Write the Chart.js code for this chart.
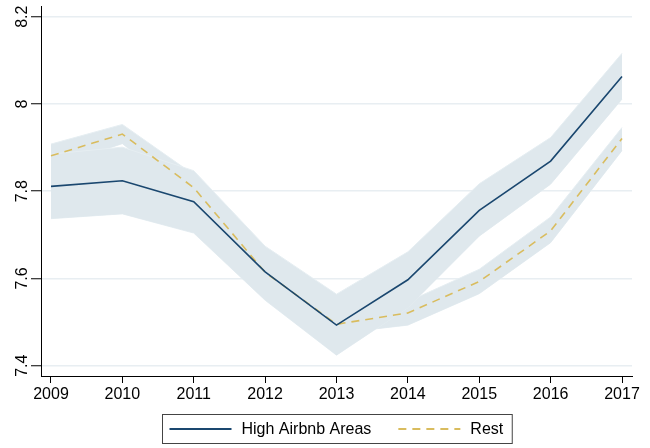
<!DOCTYPE html>
<html>
<head>
<meta charset="utf-8">
<script src="https://cdn.jsdelivr.net/npm/chart.js@4.4.1/dist/chart.umd.min.js"></script>
<style>
  body { margin: 0; background: #fff; }
  #wrap { width: 650px; height: 448px; }
</style>
</head>
<body>
<div id="wrap"><canvas id="chart"></canvas></div>
<script>
const years = [2009, 2010, 2011, 2012, 2013, 2014, 2015, 2016, 2017];
const highAirbnb = [7.811, 7.824, 7.776, 7.615, 7.493, 7.597, 7.756, 7.869, 8.063];
const highLower = [7.737, 7.748, 7.704, 7.550, 7.424, 7.533, 7.697, 7.816, 8.011];
const highUpper = [7.885, 7.901, 7.847, 7.674, 7.564, 7.661, 7.817, 7.923, 8.116];
const rest = [7.881, 7.931, 7.808, 7.614, 7.495, 7.521, 7.593, 7.709, 7.921];
const restLower = [7.854, 7.909, 7.778, 7.587, 7.474, 7.493, 7.565, 7.682, 7.893];
const restUpper = [7.908, 7.953, 7.838, 7.641, 7.520, 7.547, 7.621, 7.741, 7.946];
const yTicks = [7.4, 7.6, 7.8, 8, 8.2];
const seriesNames = ["High Airbnb Areas", "Rest"];

const FONT = "'Liberation Sans', Arial, sans-serif";
const NAVY = "#1a476f";
const GOLD = "#d9bc5e";
const BAND = "#dfe8ed";

function pts(vals) {
  return years.map((y, i) => ({ x: y, y: vals[i] }));
}

// y labels are rotated like the original, so draw them here; plus the boxed legend
const extras = {
  id: "extras",
  afterDraw(chart) {
    const ctx = chart.ctx;
    const ys = chart.scales.y;
    ctx.save();
    ctx.fillStyle = "#000";
    ctx.font = "16px " + FONT;
    ctx.textAlign = "center";
    ctx.textBaseline = "alphabetic";
    yTicks.forEach(v => {
      ctx.save();
      ctx.translate(27, ys.getPixelForValue(v));
      ctx.rotate(-Math.PI / 2);
      ctx.fillText(String(v), 0, 0);
      ctx.restore();
    });

    // legend
    const lineLen = 62, gap = 10, itemGap = 27, padL = 7, padR = 9;
    const w0 = ctx.measureText(seriesNames[0]).width;
    const w1 = ctx.measureText(seriesNames[1]).width;
    const boxW = padL + lineLen + gap + w0 + itemGap + lineLen + gap + w1 + padR;
    const cx = (chart.chartArea.left + chart.chartArea.right) / 2;
    const bx = Math.round(cx - boxW / 2) + 0.5;
    const by = 414.5, bh = 29;
    ctx.strokeStyle = "#444";
    ctx.lineWidth = 1;
    ctx.strokeRect(bx, by, boxW, bh);
    const my = by + bh / 2;
    let x = bx + padL;
    ctx.lineWidth = 2;
    ctx.strokeStyle = NAVY;
    ctx.beginPath(); ctx.moveTo(x, my); ctx.lineTo(x + lineLen, my); ctx.stroke();
    x += lineLen + gap;
    ctx.textAlign = "left";
    ctx.textBaseline = "middle";
    ctx.fillText(seriesNames[0], x, my + 1);
    x += w0 + itemGap;
    ctx.strokeStyle = GOLD;
    ctx.setLineDash([8, 6]);
    ctx.beginPath(); ctx.moveTo(x, my); ctx.lineTo(x + lineLen, my); ctx.stroke();
    ctx.setLineDash([]);
    x += lineLen + gap;
    ctx.fillText(seriesNames[1], x, my + 1);
    ctx.restore();
  }
};

new Chart(document.getElementById("chart"), {
  type: "line",
  data: {
    datasets: [
      { label: seriesNames[0], data: pts(highAirbnb), borderColor: NAVY, borderWidth: 1.6, pointRadius: 0, fill: false, order: 0 },
      { label: seriesNames[1], data: pts(rest), borderColor: GOLD, borderWidth: 1.6, borderDash: [8, 6], pointRadius: 0, fill: false, order: 0 },
      { label: "high upper", data: pts(highUpper), borderColor: "#e6eef2", borderWidth: 1, backgroundColor: BAND, pointRadius: 0, fill: "+1", order: 1 },
      { label: "high lower", data: pts(highLower), borderColor: "#e6eef2", borderWidth: 1, pointRadius: 0, fill: false, order: 1 },
      { label: "rest upper", data: pts(restUpper), borderColor: "#e6eef2", borderWidth: 1, backgroundColor: BAND, pointRadius: 0, fill: "+1", order: 1 },
      { label: "rest lower", data: pts(restLower), borderColor: "#e6eef2", borderWidth: 1, pointRadius: 0, fill: false, order: 1 }
    ]
  },
  options: {
    responsive: true,
    maintainAspectRatio: false,
    animation: false,
    layout: { padding: { top: 6, right: 18, left: 0, bottom: 0 } },
    plugins: { legend: { display: false }, tooltip: { enabled: false } },
    scales: {
      x: {
        type: "linear",
        min: 2008.86,
        max: 2017.14,
        afterBuildTicks: s => { s.ticks = years.map(v => ({ value: v })); },
        afterFit: s => { s.height = 72; },
        ticks: { color: "#000", font: { family: FONT, size: 16 }, padding: 2, maxRotation: 0, callback: v => String(v) },
        grid: { display: true, drawOnChartArea: false, drawTicks: true, tickLength: 7, tickColor: "#000", tickWidth: 1 },
        border: { display: true, color: "#000", width: 1 }
      },
      y: {
        min: 7.3764,
        max: 8.2245,
        afterBuildTicks: s => { s.ticks = yTicks.map(v => ({ value: v })); },
        afterFit: s => { s.width = 41; },
        ticks: { display: false },
        grid: { color: "#e8eef2", lineWidth: 1.5, drawTicks: true, tickLength: 10, tickColor: "#000", tickWidth: 1 },
        border: { display: true, color: "#000", width: 1 }
      }
    }
  },
  plugins: [extras]
});
</script>
</body>
</html>
